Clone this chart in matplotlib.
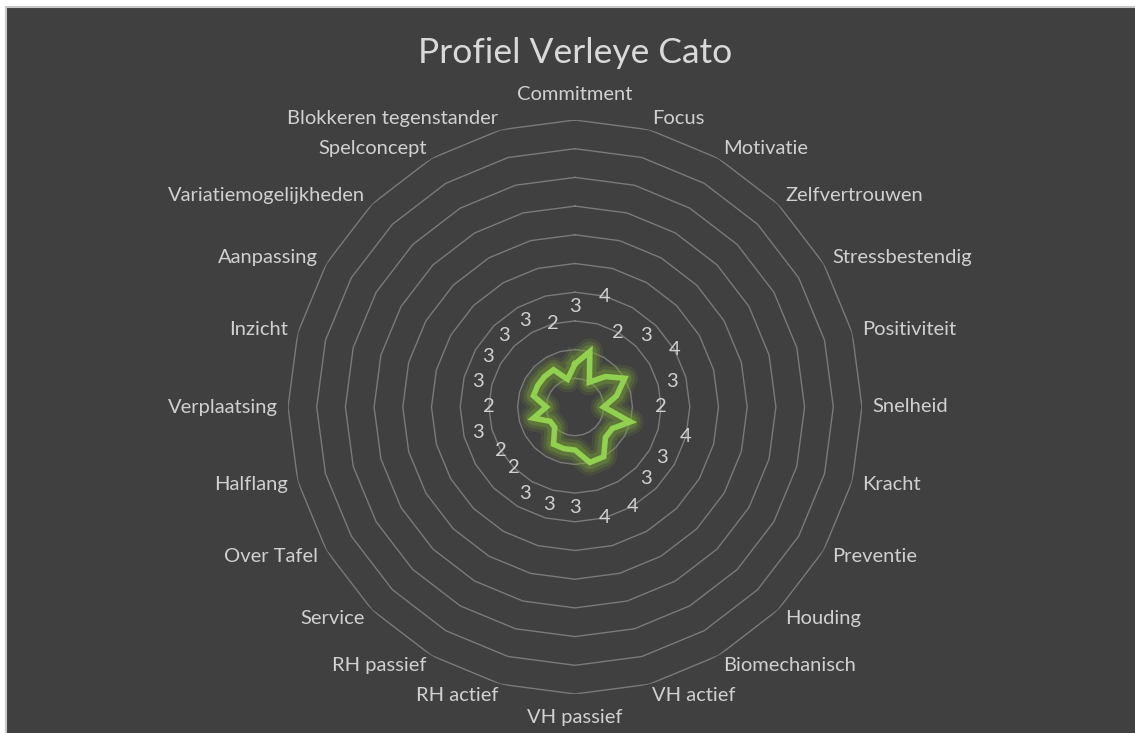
import numpy as np
import matplotlib.pyplot as plt
from matplotlib.patches import Rectangle

## Dados do gráfico
categorias = ['Commitment', 'Focus', 'Motivatie', 'Zelfvertrouwen', 'Stressbestendig',
              'Positiviteit', 'Snelheid', 'Kracht', 'Preventie', 'Houding',
              'Biomechanisch', 'VH actief', 'VH passief', 'RH actief', 'RH passief',
              'Service', 'Over Tafel', 'Halflang', 'Verplaatsing', 'Inzicht',
              'Aanpassing', 'Variatiemogelijkheden', 'Spelconcept', 'Blokkeren tegenstander']
scores = [3, 4, 2, 3, 4, 3, 2, 4, 3, 3, 4, 4, 3, 3, 3, 2, 2, 3, 2, 3, 3, 3, 3, 2]
titel = 'Profiel Verleye Cato'

# Escala do eixo (0 a 20, anéis a cada 2)
r_max = 20
r_step = 2

bg = '#404040'
grid_c = '#7a7a7a'
txt_c = '#d0d0d0'
lijn_c = '#92D050'

plt.rcParams['font.family'] = ['Lato', 'DejaVu Sans']

fig = plt.figure(figsize=(11.35, 7.33), dpi=100, facecolor='white')
fig.patches.append(Rectangle((6 / 1135, -0.1), 1.2, 1.1 - 7 / 733,
                             transform=fig.transFigure, facecolor=bg,
                             edgecolor='#c8c8c8', linewidth=1.5, zorder=-5))

# Eixo polar centrado em (575, 407) px com raio 287 px
cx, cy, R = 575, 407, 287
W, H = 1135, 733
ax = fig.add_axes([(cx - R) / W, (H - cy - R) / H, 2 * R / W, 2 * R / H], polar=True)
ax.set_facecolor('none')
ax.set_zorder(2)
ax.set_theta_zero_location('N')
ax.set_theta_direction(-1)
ax.set_ylim(0, r_max)
ax.grid(False)
ax.spines['polar'].set_visible(False)
ax.set_xticks([])
ax.set_yticks([])

n = len(categorias)
hoeken = np.arange(n) * 2 * np.pi / n
hoeken_dicht = np.append(hoeken, hoeken[0])

# Anéis poligonais
for niveau in np.arange(r_step, r_max + 0.1, r_step):
    ax.plot(hoeken_dicht, [niveau] * (n + 1), color=grid_c, lw=1.0, zorder=1)

# Linha com brilho
vals = np.append(scores, scores[0])
for lw, a in [(19, 0.14), (14.5, 0.22), (10, 0.35)]:
    ax.plot(hoeken_dicht, vals, color='#7aa33a', lw=lw, alpha=a,
            solid_joinstyle='round', zorder=2)
ax.plot(hoeken_dicht, vals, color=lijn_c, lw=4.0, solid_joinstyle='miter', zorder=3)

# Rótulos de dados (deslocados para fora)
for h, s in zip(hoeken, scores):
    ax.text(h, s + 4, str(s), color=txt_c, fontsize=14.5, ha='center', va='center', zorder=4)

# Rótulos das categorias
for h, naam in zip(hoeken, categorias):
    sn, cs = np.sin(h), np.cos(h)
    if abs(sn) < 0.05:
        ha = 'center'
        dy = 25 if cs > 0 else -24
    else:
        ha = 'left' if sn > 0 else 'right'
        dy = 12 * cs
    dx = 10 * sn
    ax.annotate(naam, xy=(h, r_max), xytext=(dx, dy), textcoords='offset pixels',
                ha=ha, va='center', color=txt_c, fontsize=14.5, annotation_clip=False)

fig.text(575 / W, 1 - 53 / H, titel, color='#d9d9d9', fontsize=25.5,
         ha='center', va='center')

plt.savefig('out.png', dpi=100, facecolor=fig.get_facecolor())
